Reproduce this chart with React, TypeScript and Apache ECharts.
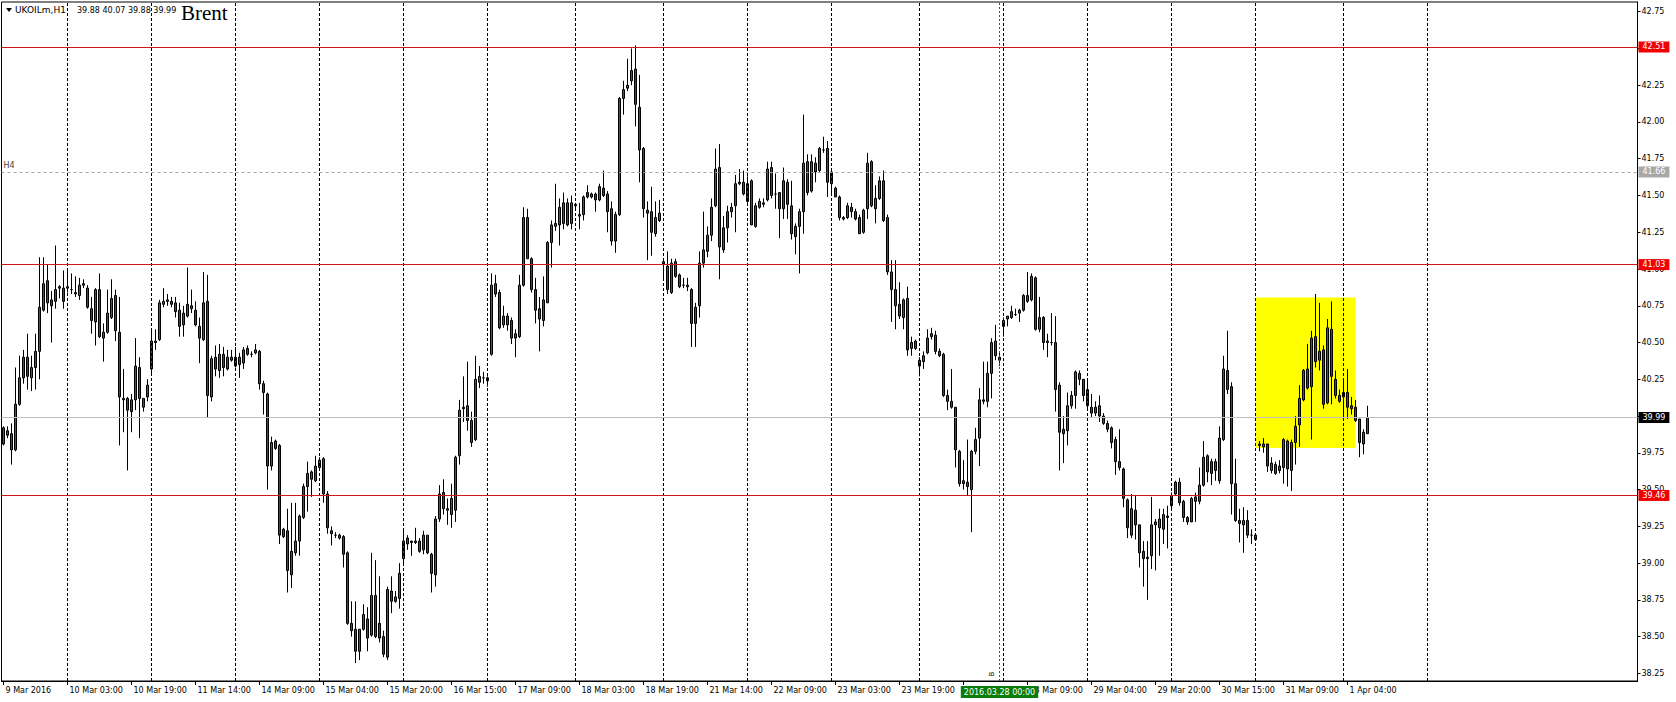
import React, { useEffect, useRef } from "react";
import * as echarts from "echarts";

// ---- data (H1 bars, UKOILm) ----
const OPEN = [
  39.81,39.90,39.88,39.77,40.08,40.26,40.40,40.26,40.33,40.44,
  40.72,40.92,40.79,40.78,40.87,40.87,40.87,40.86,40.84,40.82,
  40.89,40.87,40.73,40.64,40.86,40.53,40.57,40.67,40.82,40.57,
  40.12,40.12,40.03,40.11,40.33,40.06,40.13,40.32,40.51,40.52,
  40.76,40.78,40.78,40.77,40.72,40.62,40.68,40.75,40.72,40.61,
  40.52,40.78,40.13,40.40,40.31,40.42,40.32,40.40,40.40,40.40,
  40.36,40.46,40.42,40.43,40.44,40.22,40.15,39.66,39.83,39.80,
  39.18,39.22,38.92,39.07,39.15,39.31,39.52,39.57,39.56,39.65,
  39.71,39.47,39.22,39.19,39.17,39.18,39.07,38.59,38.55,38.40,
  38.55,38.62,38.51,38.78,38.59,38.50,38.36,38.81,38.74,38.76,
  39.03,39.17,39.15,39.14,39.15,39.09,39.19,39.06,38.92,39.30,
  39.48,39.37,39.33,39.36,39.73,40.06,40.07,39.97,39.84,40.23,
  40.26,40.26,40.42,40.90,40.84,40.62,40.68,40.65,40.53,40.54,
  40.89,41.35,41.07,40.86,40.73,40.65,40.77,41.18,41.29,41.30,
  41.31,41.45,41.31,41.44,41.37,41.37,41.52,41.49,41.51,41.47,
  41.55,41.51,41.41,41.19,41.37,42.16,42.23,42.28,42.36,42.10,
  41.82,41.40,41.39,41.24,41.33,41.05,41.02,40.84,41.05,40.96,
  40.89,40.89,40.86,40.63,40.75,41.04,41.12,41.23,41.43,41.69,
  41.13,41.28,41.39,41.43,41.58,41.59,41.46,41.60,41.29,41.42,
  41.44,41.47,41.69,41.51,41.52,41.41,41.59,41.43,41.22,41.29,
  41.39,41.73,41.53,41.72,41.67,41.81,41.82,41.66,41.55,41.49,
  41.35,41.35,41.42,41.39,41.35,41.25,41.41,41.73,41.41,41.48,
  41.60,41.35,40.98,40.86,40.76,40.67,40.80,40.46,40.51,40.34,
  40.37,40.43,40.54,40.55,40.44,40.42,40.14,40.10,40.06,39.76,
  39.56,39.55,39.50,39.76,39.85,40.10,40.10,40.29,40.51,40.40,
  40.61,40.66,40.67,40.69,40.70,40.72,40.82,40.79,40.94,40.59,
  40.67,40.51,40.50,40.50,40.21,39.91,39.90,40.07,40.14,40.29,
  40.25,40.18,40.06,40.02,40.07,40.00,39.95,39.92,39.84,39.69,
  39.64,39.43,39.19,39.36,39.26,39.08,39.04,39.05,39.26,39.24,
  39.23,39.32,39.39,39.47,39.55,39.42,39.31,39.28,39.42,39.42,
  39.53,39.73,39.69,39.63,39.56,39.84,40.31,40.20,39.54,39.29,
  39.26,39.29,39.19,39.16,39.80,39.81,39.81,39.63,39.67,39.63,
  39.65,39.83,39.63,39.82,39.94,40.11,40.32,40.20,40.54,40.38,
  40.45,40.09,40.59,40.25,40.14,40.13,40.16,40.07,40.06,39.98,
  39.81,39.88,
];
const HIGH = [
  39.93,39.93,39.95,40.33,40.41,40.45,40.56,40.41,40.56,41.08,
  41.08,41.03,40.85,41.16,40.89,40.99,40.99,40.97,40.95,40.94,
  40.93,40.89,40.81,40.87,40.97,40.63,40.86,40.93,40.86,40.81,
  40.32,40.13,40.15,40.53,40.40,40.12,40.25,40.59,40.59,40.79,
  40.87,40.83,40.81,40.81,40.77,40.75,41.01,40.86,40.78,40.67,
  40.98,40.96,40.41,40.48,40.49,40.47,40.45,40.45,40.47,40.43,
  40.47,40.48,40.44,40.49,40.45,40.24,40.16,39.86,39.84,39.81,
  39.24,39.37,39.41,39.41,39.33,39.54,39.69,39.63,39.73,39.72,
  39.72,39.49,39.25,39.21,39.20,39.19,39.08,38.74,38.74,38.55,
  38.72,38.70,39.07,39.02,38.91,38.54,38.84,38.91,38.81,39.00,
  39.23,39.19,39.15,39.24,39.17,39.22,39.19,39.07,39.32,39.53,
  39.57,39.44,39.54,39.73,40.11,40.27,40.37,40.03,40.41,40.34,
  40.30,40.27,40.97,40.96,40.86,40.75,40.70,40.67,40.59,40.96,
  41.42,41.41,41.08,40.94,40.81,40.95,41.19,41.33,41.58,41.48,
  41.52,41.48,41.50,41.45,41.45,41.50,41.57,41.52,41.52,41.58,
  41.67,41.53,41.46,41.39,42.17,42.28,42.43,42.50,42.52,42.32,
  41.83,41.46,41.56,41.46,41.47,41.06,41.12,41.07,41.07,40.97,
  40.94,40.94,40.87,40.77,41.12,41.39,41.29,41.48,41.82,41.85,
  41.36,41.43,41.45,41.64,41.68,41.67,41.63,41.61,41.45,41.48,
  41.48,41.73,41.73,41.65,41.52,41.69,41.61,41.60,41.31,41.41,
  42.05,41.78,41.78,41.76,41.83,41.90,41.87,41.67,41.56,41.50,
  41.36,41.45,41.45,41.41,41.37,41.41,41.79,41.74,41.57,41.63,
  41.67,41.37,41.06,41.06,40.91,40.80,40.88,40.54,40.52,40.40,
  40.44,40.59,40.60,40.58,40.46,40.43,40.18,40.32,40.06,39.77,
  39.70,39.84,39.77,39.92,40.19,40.37,40.37,40.53,40.62,40.44,
  40.67,40.68,40.75,40.73,40.73,40.83,40.98,40.97,40.95,40.81,
  40.68,40.56,40.70,40.68,40.23,40.00,40.16,40.17,40.31,40.31,
  40.25,40.24,40.15,40.10,40.14,40.02,39.97,39.93,39.86,39.91,
  39.65,39.44,39.47,39.46,39.26,39.15,39.15,39.45,39.30,39.37,
  39.37,39.39,39.48,39.56,39.58,39.43,39.32,39.45,39.48,39.65,
  39.83,39.74,39.71,39.71,39.93,40.41,40.58,40.23,39.71,39.37,
  39.38,39.36,39.23,39.19,39.83,39.85,39.81,39.72,39.69,39.70,
  39.85,39.84,39.84,40.00,40.21,40.32,40.49,40.58,40.83,40.77,
  40.48,40.66,40.78,40.31,40.18,40.24,40.32,40.13,40.11,39.98,
  39.91,40.07,
];
const LOW = [
  39.80,39.85,39.67,39.76,40.07,40.22,40.18,40.17,40.18,40.25,
  40.71,40.70,40.50,40.73,40.80,40.73,40.84,40.83,40.81,40.79,
  40.87,40.73,40.56,40.48,40.53,40.37,40.56,40.66,40.51,39.80,
  39.89,39.63,39.89,40.04,39.85,40.03,40.10,40.29,40.45,40.51,
  40.74,40.75,40.74,40.67,40.54,40.54,40.67,40.70,40.61,40.36,
  40.51,39.99,40.10,40.27,40.26,40.27,40.31,40.37,40.33,40.26,
  40.32,40.41,40.40,40.42,40.18,40.01,39.50,39.63,39.77,39.13,
  39.17,38.80,38.83,39.05,39.05,39.30,39.35,39.45,39.55,39.64,
  39.41,39.20,39.12,39.17,39.16,38.97,38.58,38.50,38.32,38.34,
  38.54,38.40,38.50,38.49,38.46,38.36,38.34,38.66,38.73,38.69,
  39.00,39.09,39.05,39.13,39.07,39.06,39.06,38.80,38.84,39.28,
  39.33,39.26,39.24,39.28,39.67,39.96,39.90,39.79,39.83,40.19,
  40.22,40.20,40.41,40.81,40.59,40.60,40.58,40.49,40.40,40.53,
  40.88,41.07,40.84,40.63,40.44,40.61,40.77,41.01,41.26,41.16,
  41.27,41.29,41.27,41.41,41.27,41.33,41.48,41.48,41.39,41.46,
  41.49,41.25,41.16,41.11,41.36,42.05,42.21,42.25,41.97,41.59,
  41.35,41.06,41.09,41.22,41.32,40.92,40.83,40.83,40.94,40.87,
  40.87,40.85,40.47,40.47,40.67,41.01,41.08,41.19,41.42,40.93,
  41.11,41.18,41.35,41.25,41.57,41.50,41.45,41.30,41.28,41.41,
  41.42,41.46,41.48,41.41,41.21,41.34,41.34,41.20,41.10,40.97,
  41.24,41.50,41.52,41.59,41.66,41.79,41.49,41.50,41.49,41.33,
  41.33,41.34,41.35,41.33,41.24,41.24,41.34,41.42,41.31,41.47,
  41.32,40.96,40.64,40.59,40.66,40.59,40.41,40.41,40.45,40.27,
  40.32,40.42,40.52,40.42,40.40,40.13,40.04,40.05,39.65,39.52,
  39.50,39.46,39.21,39.74,39.66,40.08,40.06,40.12,40.38,40.34,
  40.54,40.61,40.66,40.68,40.64,40.71,40.77,40.78,40.58,40.57,
  40.45,40.40,40.48,40.03,39.63,39.68,39.80,40.05,40.05,40.21,
  40.10,40.04,39.99,40.00,39.96,39.94,39.89,39.78,39.60,39.63,
  39.38,39.17,39.17,39.16,38.97,38.84,38.75,38.96,38.95,39.05,
  39.13,39.10,39.37,39.46,39.39,39.28,39.26,39.28,39.28,39.40,
  39.52,39.55,39.53,39.56,39.54,39.83,40.15,39.33,39.28,39.14,
  39.07,39.17,39.13,39.15,39.76,39.75,39.62,39.61,39.60,39.61,
  39.54,39.52,39.49,39.67,39.79,40.10,40.18,39.84,40.33,40.31,
  40.05,40.08,40.08,40.12,40.09,39.98,39.98,40.01,39.96,39.72,
  39.74,39.88,
];
const CLOSE = [
  39.92,39.87,39.77,40.08,40.26,40.40,40.27,40.33,40.44,40.74,
  40.90,40.77,40.75,40.86,40.88,40.78,40.88,40.86,40.83,40.89,
  40.90,40.74,40.65,40.86,40.54,40.57,40.70,40.80,40.58,40.13,
  40.11,40.04,40.11,40.34,40.12,40.12,40.21,40.51,40.50,40.77,
  40.78,40.79,40.76,40.71,40.61,40.70,40.76,40.73,40.62,40.53,
  40.77,40.14,40.39,40.32,40.42,40.33,40.40,40.38,40.34,40.35,
  40.45,40.42,40.42,40.45,40.22,40.16,39.66,39.82,39.78,39.19,
  39.23,38.95,39.08,39.15,39.32,39.52,39.61,39.62,39.66,39.70,
  39.47,39.24,39.20,39.19,39.19,39.06,38.59,38.54,38.40,38.55,
  38.65,38.49,38.78,38.50,38.49,38.38,38.82,38.74,38.77,38.93,
  39.15,39.13,39.14,39.15,39.08,39.19,39.07,38.93,39.30,39.47,
  39.37,39.36,39.44,39.72,40.04,40.05,39.97,39.82,40.25,40.27,
  40.26,40.24,40.89,40.83,40.60,40.68,40.62,40.53,40.56,40.89,
  41.35,41.07,40.86,40.72,40.66,40.79,41.18,41.30,41.31,41.42,
  41.45,41.30,41.45,41.43,41.36,41.49,41.49,41.51,41.47,41.56,
  41.50,41.39,41.19,41.37,42.16,42.22,42.25,42.35,42.12,41.81,
  41.41,41.38,41.25,41.35,41.38,41.03,40.86,41.04,40.95,40.88,
  40.89,40.88,40.63,40.74,41.04,41.13,41.23,41.42,41.68,41.15,
  41.28,41.39,41.42,41.58,41.59,41.51,41.58,41.30,41.43,41.46,
  41.45,41.68,41.50,41.51,41.41,41.60,41.44,41.24,41.29,41.39,
  41.72,41.52,41.73,41.66,41.82,41.81,41.59,41.58,41.49,41.35,
  41.34,41.43,41.39,41.34,41.24,41.40,41.72,41.43,41.48,41.60,
  41.33,40.98,40.86,40.75,40.68,40.79,40.45,40.50,40.46,40.38,
  40.41,40.53,40.56,40.44,40.41,40.14,40.10,40.06,39.77,39.54,
  39.54,39.52,39.76,39.84,40.11,40.11,40.29,40.50,40.41,40.38,
  40.65,40.68,40.71,40.69,40.72,40.82,40.78,40.95,40.59,40.67,
  40.50,40.50,40.50,40.18,39.89,39.88,40.07,40.14,40.30,40.25,
  40.14,40.07,40.02,40.06,40.00,39.95,39.91,39.82,39.69,39.65,
  39.44,39.24,39.37,39.26,39.07,39.03,39.03,39.26,39.28,39.30,
  39.33,39.31,39.46,39.55,39.41,39.31,39.28,39.44,39.45,39.53,
  39.72,39.62,39.61,39.69,39.85,40.32,40.18,39.54,39.29,39.27,
  39.29,39.19,39.19,39.19,39.81,39.79,39.66,39.68,39.61,39.66,
  39.84,39.64,39.82,39.93,40.12,40.31,40.19,40.53,40.37,40.44,
  40.08,40.60,40.27,40.14,40.10,40.16,40.06,40.05,39.97,39.82,
  39.89,39.99,
];

// time-axis labels, one every LABEL_STEP bars
const LABEL_STEP = 16;
const X_LABELS = [
  "9 Mar 2016", "10 Mar 03:00", "10 Mar 19:00", "11 Mar 14:00", "14 Mar 09:00",
  "15 Mar 04:00", "15 Mar 20:00", "16 Mar 15:00", "17 Mar 09:00", "18 Mar 03:00",
  "18 Mar 19:00", "21 Mar 14:00", "22 Mar 09:00", "23 Mar 03:00", "23 Mar 19:00",
  "", "28 Mar 09:00", "29 Mar 04:00", "29 Mar 20:00", "30 Mar 15:00",
  "31 Mar 09:00", "1 Apr 04:00",
];
const SLOT_COUNT = 409; // bar slots incl. right-side shift
const Y_TICKS = [38.25, 38.5, 38.75, 39.0, 39.25, 39.5, 39.75, 40.0, 40.25, 40.5, 40.75, 41.0, 41.25, 41.5, 41.75, 42.0, 42.25, 42.5, 42.75];
const Y_MIN = 38.198;
const Y_MAX = 42.816;
const DAY_SEPARATORS = [16, 37, 58, 79, 100, 121, 143, 165, 186, 207, 229, 250, 271, 292, 313, 335, 356];
const RED_LEVELS = [42.51, 41.03, 39.46];
const H4_LEVEL = 41.66;
const BID_LEVEL = 39.99;
const CURSOR_BAR = 249;
const CURSOR_LABEL = "2016.03.28 00:00";
const BOX_FROM_BAR = 313;
const BOX_TO_BAR = 338;
const BOX_TOP = 40.806;
const BOX_BOTTOM = 39.782;
const SYMBOL = "UKOILm,H1";
const TITLE = "Brent";

const FONT = "'DejaVu Sans', sans-serif";

export default function App() {
  const ref = useRef<HTMLDivElement>(null);

  useEffect(() => {
    if (!ref.current) return;
    const chart = echarts.init(ref.current, undefined, { renderer: "svg" });
    const cats = Array.from({ length: SLOT_COUNT }, (_, i) => String(i));
    const candles = OPEN.map((o, i) => [o, CLOSE[i], LOW[i], HIGH[i]]);
    const last = OPEN.length - 1;
    const quote = [OPEN[last], HIGH[last], LOW[last], CLOSE[last]].map((v) => v.toFixed(2)).join(" ");
    const showIdx = (i: number) => i % LABEL_STEP === 0 && i / LABEL_STEP < X_LABELS.length;

    const boxLabel = (bg: string) => ({
      show: true,
      position: "end",
      distance: 1,
      color: "#fff",
      backgroundColor: bg,
      fontFamily: FONT,
      fontSize: 8,
      lineHeight: 10,
      padding: [1, 4, 0, 4],
    });

    const markLines: any[] = [];
    DAY_SEPARATORS.forEach((i) =>
      markLines.push({ xAxis: i, lineStyle: { color: "#000", type: [3, 2], width: 1 }, label: { show: false } })
    );
    RED_LEVELS.forEach((v) =>
      markLines.push({
        yAxis: v,
        lineStyle: { color: "#cc1a1a", type: "solid", width: 1 },
        label: { ...boxLabel("#f00000"), formatter: v.toFixed(2) },
      })
    );
    markLines.push({
      yAxis: H4_LEVEL,
      lineStyle: { color: "#a8a8a8", type: [3, 3], width: 1 },
      label: { ...boxLabel("#a8a8a8"), formatter: H4_LEVEL.toFixed(2) },
    });
    markLines.push({
      yAxis: H4_LEVEL,
      lineStyle: { color: "rgba(0,0,0,0)", width: 0 },
      label: { show: true, position: "insideStartTop", distance: 2, formatter: "H4", color: "#444", fontFamily: FONT, fontSize: 8 },
    });
    markLines.push({
      yAxis: BID_LEVEL,
      lineStyle: { color: "#c0c0c0", type: "solid", width: 1 },
      label: { ...boxLabel("#000"), formatter: BID_LEVEL.toFixed(2) },
    });
    markLines.push({
      xAxis: CURSOR_BAR,
      lineStyle: { color: "#008000", type: [2, 2], width: 1 },
      label: {
        show: true,
        position: "start",
        distance: 5,
        formatter: CURSOR_LABEL,
        color: "#fff",
        backgroundColor: "#0a7d0a",
        fontFamily: FONT,
        fontSize: 8,
        lineHeight: 10,
        padding: [1, 3, 1, 3],
      },
    });

    chart.setOption({
      animation: false,
      backgroundColor: "#fff",
      grid: {
        left: 1.5,
        right: 38.5,
        top: 2,
        bottom: 21,
        show: true,
        borderColor: "#000",
        borderWidth: 1,
        backgroundColor: "#fff",
      },
      xAxis: {
        type: "category",
        data: cats,
        boundaryGap: true,
        axisLine: { show: true, lineStyle: { color: "#000" } },
        axisTick: {
          show: true,
          alignWithLabel: true,
          interval: (i: number) => showIdx(i),
          length: 4,
          lineStyle: { color: "#000" },
        },
        axisLabel: {
          show: true,
          interval: (i: number) => showIdx(i),
          formatter: (_v: string, i: number) => X_LABELS[i / LABEL_STEP] ?? "",
          align: "left",
          margin: 5,
          padding: [0, 0, 0, 2],
          color: "#000",
          fontFamily: FONT,
          fontSize: 8,
        },
        splitLine: { show: false },
      },
      yAxis: {
        type: "value",
        position: "right",
        min: Y_MIN,
        max: Y_MAX,
        axisLine: { show: true, lineStyle: { color: "#000" } },
        axisTick: { show: true, length: 3, customValues: Y_TICKS, lineStyle: { color: "#000" } },
        axisLabel: {
          show: true,
          customValues: Y_TICKS,
          formatter: (v: number) => v.toFixed(2),
          margin: 4,
          color: "#000",
          fontFamily: FONT,
          fontSize: 8,
        },
        splitLine: { show: false },
      },
      series: [
        {
          type: "line",
          data: [],
          z: 1,
          silent: true,
          markArea: {
            silent: true,
            itemStyle: { color: "#ffff00", opacity: 1 },
            data: [[{ xAxis: BOX_FROM_BAR, yAxis: BOX_TOP }, { xAxis: BOX_TO_BAR, yAxis: BOX_BOTTOM }]],
          },
        },
        {
          type: "line",
          data: [],
          z: 2,
          silent: true,
          markLine: { silent: true, symbol: ["none", "none"], animation: false, data: markLines },
        },
        {
          type: "candlestick",
          z: 3,
          data: candles,
          barWidth: 3,
          silent: true,
          itemStyle: {
            color: "#26702a",
            color0: "#b01c1c",
            borderColor: "#000",
            borderColor0: "#000",
            borderColorDoji: "#000",
            borderWidth: 1,
          },
        },
      ],
      graphic: [
        { type: "polygon", shape: { points: [[6, 8], [12, 8], [9, 12]] }, style: { fill: "#000" }, z: 10 },
        { type: "text", x: 15, y: 10, z: 10, style: { text: SYMBOL, fontFamily: FONT, fontSize: 9, fill: "#000", verticalAlign: "middle" } },
        { type: "text", x: 77, y: 10, z: 10, style: { text: quote, fontFamily: FONT, fontSize: 8, fill: "#000", verticalAlign: "middle" } },
        { type: "text", x: 181, y: 2, z: 10, style: { text: TITLE, fontFamily: "'Liberation Serif', serif", fontSize: 21, fill: "#000", verticalAlign: "top" } },
        { type: "text", x: 992, y: 674, rotation: Math.PI / 2, z: 10, style: { text: "B", fontFamily: FONT, fontSize: 7, fill: "#000", align: "center", verticalAlign: "middle" } },
      ],
    });
    return () => chart.dispose();
  }, []);

  return <div ref={ref} style={{ position: "absolute", left: 0, top: 0, width: 1676, height: 702 }} />;
}
